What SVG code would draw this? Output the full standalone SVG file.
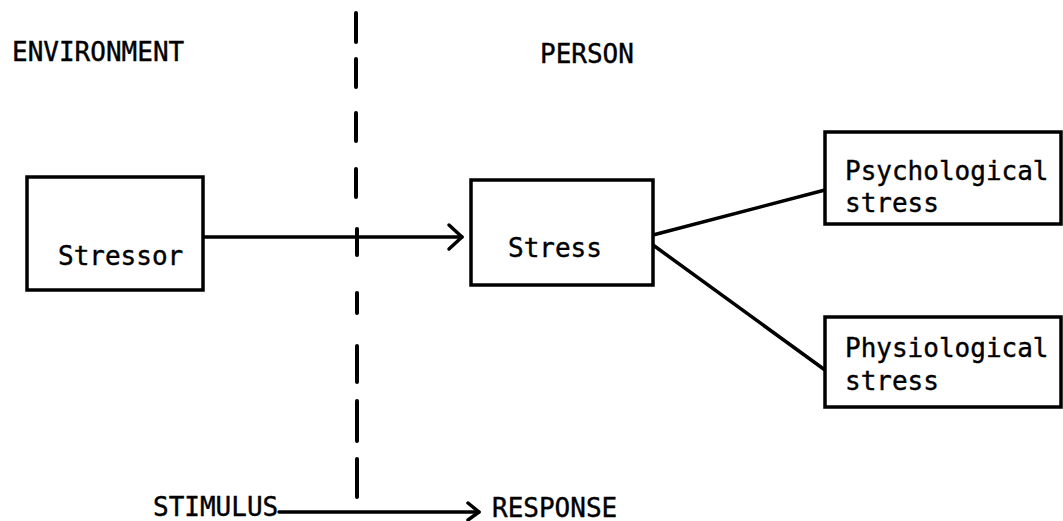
<svg xmlns="http://www.w3.org/2000/svg" width="1063" height="521" viewBox="0 0 1063 521">
<style>
.box{fill:#fff;stroke:#000;stroke-width:3.5}
.ln{fill:none;stroke:#000;stroke-width:3.5;stroke-linecap:round;stroke-linejoin:round}
.dash{stroke:#000;stroke-width:4;stroke-linecap:round}
text{font-family:"DejaVu Sans Mono","Liberation Mono",monospace;font-size:26px;fill:#000;stroke:#000;stroke-width:0.4}
</style>
<rect width="1063" height="521" fill="#fff"/>
<g id="divider">
<line class="dash" x1="356" y1="13" x2="356" y2="42"/>
<line class="dash" x1="356" y1="59" x2="356" y2="87"/>
<line class="dash" x1="356" y1="113" x2="356" y2="141"/>
<line class="dash" x1="356" y1="169" x2="356" y2="197"/>
<line class="dash" x1="357" y1="229" x2="357" y2="255"/>
<line class="dash" x1="357" y1="293" x2="357" y2="313"/>
<line class="dash" x1="357" y1="346" x2="357" y2="382"/>
<line class="dash" x1="357" y1="401" x2="357" y2="441"/>
<line class="dash" x1="357" y1="459" x2="357" y2="497"/>
</g>
<g id="labels">
<text x="12" y="61">ENVIRONMENT</text>
<text x="540" y="63">PERSON</text>
<text x="153" y="516">STIMULUS</text>
<text x="492" y="517">RESPONSE</text>
</g>
<g id="connectors">
<line class="ln" x1="203" y1="237" x2="462" y2="237"/>
<polyline class="ln" points="449,225 462,237 449,249"/>
<line class="ln" x1="653" y1="235" x2="825" y2="190"/>
<line class="ln" x1="653" y1="245" x2="825" y2="370"/>
<line class="ln" x1="279" y1="512" x2="479" y2="512"/>
<polyline class="ln" points="468,503 479,512 468,520"/>
</g>
<g id="stressor">
<rect class="box" x="27" y="177" width="176" height="113"/>
<text x="58" y="265">Stressor</text>
</g>
<g id="stress">
<rect class="box" x="471" y="180" width="182" height="105"/>
<text x="508" y="257">Stress</text>
</g>
<g id="psychological">
<rect class="box" x="825" y="132" width="236" height="92"/>
<text x="845" y="180">Psychological</text>
<text x="845" y="212">stress</text>
</g>
<g id="physiological">
<rect class="box" x="825" y="317" width="236" height="90"/>
<text x="845" y="357">Physiological</text>
<text x="845" y="390">stress</text>
</g>
</svg>
